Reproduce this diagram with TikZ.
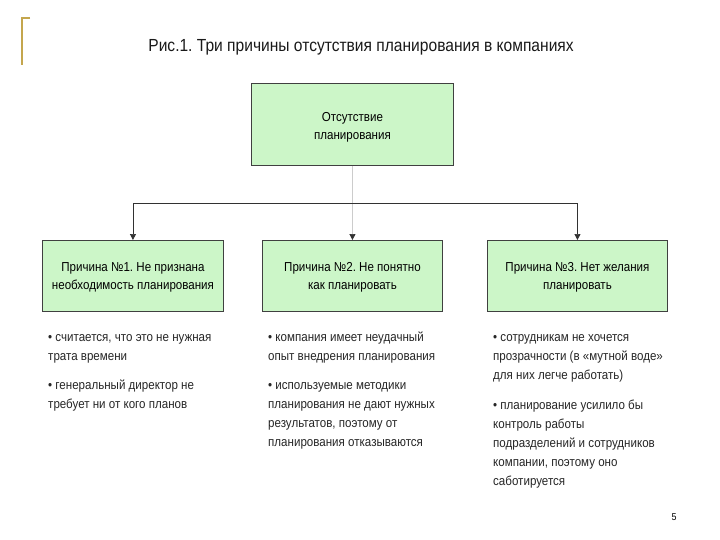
\documentclass[tikz,border=0pt]{standalone}
\usepackage{fontspec}
\setmainfont{Liberation Sans}[FakeStretch=0.89]
\usetikzlibrary{arrows.meta}
\definecolor{boxgreen}{RGB}{204,246,200}
\definecolor{goldline}{RGB}{196,166,78}
\definecolor{conn}{RGB}{50,50,50}
\tikzset{
  gbox/.style={draw=black!75, line width=0.9pt, fill=boxgreen, inner sep=0pt, anchor=north west,
    font=\fontsize{13}{18.5}\selectfont, align=center},
  bul/.style={anchor=base west, inner sep=0pt, align=left, font=\fontsize{13}{19}\selectfont, text=black!85},
  arr/.style={draw=conn, line width=0.7pt, -{Triangle[width=6pt,length=6pt]}},
}
\frenchspacing
\begin{document}
\begin{tikzpicture}[x=1pt,y=-1pt]
\useasboundingbox[fill=white] (0,0) rectangle (720,540);
% gold bracket
\draw[goldline, line width=1.6pt] (30,18) -- (22,18) -- (22,65);
% title
\node[font=\fontsize{17.5}{19}\selectfont, text=black!90] (title) at (361,47) {Рис.1. Три причины отсутствия планирования в компаниях};
% top box
\node[gbox, minimum width=202pt, minimum height=82pt] (top) at (251,83) {\rule{0pt}{15pt}Отсутствие\\планирования};
% reason boxes
\node[gbox, minimum width=181pt, minimum height=71pt] (r1) at (42,240) {\rule{0pt}{12pt}Причина №1. Не признана\\необходимость планирования};
\node[gbox, minimum width=180pt, minimum height=71pt] (r2) at (262,240) {\rule{0pt}{12pt}Причина №2. Не понятно\\как планировать};
\node[gbox, minimum width=180pt, minimum height=71pt] (r3) at (487,240) {\rule{0pt}{12pt}Причина №3. Нет желания\\планировать};
% connectors
\coordinate (jn) at (352,203);
\draw[draw=black!20, line width=0.7pt, -{Triangle[width=6pt,length=6pt,color=conn]}] (top.south) -- (r2.north);
\draw[arr] (jn) -| (r1.north);
\draw[arr] (jn) -| (r3.north);
% bullets (anchor = baseline of the last line)
\node[bul] (b11) at (48,360.5) {• считается, что это не нужная\\трата времени};
\node[bul] (b12) at (48,408.5) {• генеральный директор не\\требует ни от кого планов};
\node[bul] (b21) at (268,360.5) {• компания имеет неудачный\\опыт внедрения планирования};
\node[bul] (b22) at (268,446.5) {• используемые методики\\планирования не дают нужных\\результатов, поэтому от\\планирования отказываются};
\node[bul] (b31) at (493,379.5) {• сотрудникам не хочется\\прозрачности (в «мутной воде»\\для них легче работать)};
\node[bul] (b32) at (493,485.5) {• планирование усилило бы\\контроль работы\\подразделений и сотрудников\\компании, поэтому оно\\саботируется};
% page number
\node[font=\fontsize{10}{12}\selectfont] (pg) at (674,517) {5};
\end{tikzpicture}
\end{document}
